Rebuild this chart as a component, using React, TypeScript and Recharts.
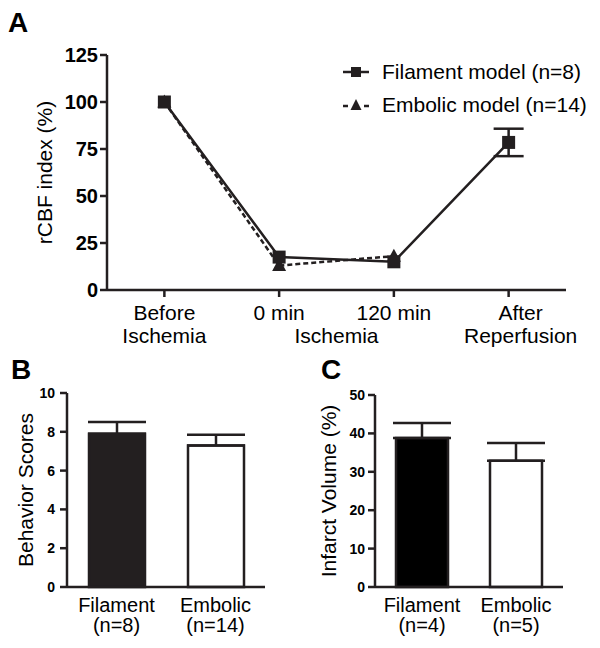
import React from "react";
import {
  LineChart,
  Line,
  BarChart,
  Bar,
  Cell,
  XAxis,
  YAxis,
  ErrorBar,
  Legend,
} from "recharts";

const INK = "#231f20";
const FONT = '"Liberation Sans", Arial, Helvetica, sans-serif';

// Panel A: rCBF over time
const timepoints = ["Before\nIschemia", "0 min", "120 min", "After\nReperfusion"];
const ischemiaGroupLabel = "Ischemia";
const filamentRcbf = [100, 17.5, 15, 78.5];
const filamentRcbfErr = [null, null, null, 7.3];
const embolicRcbf = [100, 13, 18, null];
const rcbfTicks = [0, 25, 50, 75, 100, 125];
const seriesNames = ["Filament model (n=8)", "Embolic model (n=14)"];

// Panel B: behavior scores
const groups = ["Filament", "Embolic"];
const behaviorN = ["(n=8)", "(n=14)"];
const behaviorScores = [7.9, 7.3];
const behaviorErr = [0.6, 0.55];
const behaviorTicks = [0, 2, 4, 6, 8, 10];

// Panel C: infarct volume
const infarctN = ["(n=4)", "(n=5)"];
const infarctVolume = [38.8, 32.9];
const infarctErr = [3.9, 4.6];
const infarctTicks = [0, 10, 20, 30, 40, 50];

const rcbfData = timepoints.map((t, i) => ({
  time: t,
  filament: filamentRcbf[i],
  filamentErr: filamentRcbfErr[i],
  embolic: embolicRcbf[i],
}));

const behaviorData = groups.map((g, i) => ({
  group: g,
  n: behaviorN[i],
  value: behaviorScores[i],
  err: [0, behaviorErr[i]],
}));

const infarctData = groups.map((g, i) => ({
  group: g,
  n: infarctN[i],
  value: infarctVolume[i],
  err: [0, infarctErr[i]],
}));

// plot box of panel A (px)
const A_LEFT = 107;
const A_RIGHT = 566;
const A_HALF_BAND = (A_RIGHT - A_LEFT) / 8;

const axisStroke = { stroke: INK, strokeWidth: 2.5 };

function SquareDot(props: any) {
  const { cx, cy } = props;
  if (cx == null || cy == null) return null;
  return <rect x={cx - 6.5} y={cy - 6.5} width={13} height={13} fill={INK} />;
}

function TriangleDot(props: any) {
  const { cx, cy } = props;
  if (cx == null || cy == null) return null;
  return (
    <polygon
      points={`${cx},${cy - 7.5} ${cx - 7},${cy + 5.5} ${cx + 7},${cy + 5.5}`}
      fill={INK}
    />
  );
}

function TimeTick(props: any) {
  const { x, y, payload } = props;
  const idx = timepoints.indexOf(payload.value);
  const lines = String(payload.value).split("\n");
  const dx = idx === 3 ? 12 : 0;
  const textProps = {
    textAnchor: "middle" as const,
    fontSize: 21,
    fill: "#000",
    fontFamily: FONT,
  };
  return (
    <g>
      {lines.map((t, i) => (
        <text key={i} x={x + dx} y={y + 23 + i * 23} {...textProps}>
          {t}
        </text>
      ))}
      {idx === 1 && (
        <text x={x + A_HALF_BAND} y={y + 46} {...textProps}>
          {ischemiaGroupLabel}
        </text>
      )}
    </g>
  );
}

function GroupTick(props: any) {
  const { x, y, payload, nLabels } = props;
  const idx = groups.indexOf(payload.value);
  const textProps = {
    textAnchor: "middle" as const,
    fontSize: 20,
    fill: "#000",
    fontFamily: FONT,
  };
  return (
    <g>
      <text x={x} y={y + 25} {...textProps}>
        {payload.value}
      </text>
      <text x={x} y={y + 45} {...textProps}>
        {nLabels[idx]}
      </text>
    </g>
  );
}

function rotatedLabel(value: string, cx: number, size = 21) {
  return (p: any) => {
    const vb = p.viewBox || {};
    const cy = vb.y + vb.height / 2;
    return (
      <text
        x={cx}
        y={cy}
        transform={`rotate(-90 ${cx} ${cy})`}
        textAnchor="middle"
        dominantBaseline="central"
        fontSize={size}
        fill="#000"
        fontFamily={FONT}
      >
        {value}
      </text>
    );
  };
}

function ModelLegend() {
  return (
    <div style={{ fontFamily: FONT, fontSize: 21, color: "#000" }}>
      {seriesNames.map((name, i) => (
        <div
          key={name}
          style={{ display: "flex", alignItems: "center", height: 33, whiteSpace: "nowrap" }}
        >
          <svg width={26} height={16}>
            {i === 0 ? (
              <g>
                <line x1={0} y1={8} x2={26} y2={8} stroke={INK} strokeWidth={2.5} />
                <rect x={8} y={3} width={10} height={10} fill={INK} />
              </g>
            ) : (
              <g>
                <line x1={0} y1={9} x2={5} y2={9} stroke={INK} strokeWidth={2.5} />
                <polygon points="13,2 7.5,13 18.5,13" fill={INK} />
                <line x1={21} y1={9} x2={26} y2={9} stroke={INK} strokeWidth={2.5} />
              </g>
            )}
          </svg>
          <span style={{ marginLeft: 13 }}>{name}</span>
        </div>
      ))}
    </div>
  );
}

const panelLetter: React.CSSProperties = {
  position: "absolute",
  fontFamily: FONT,
  fontWeight: 700,
  fontSize: 28,
  lineHeight: "28px",
  color: "#000",
};

export default function App() {
  return (
    <div
      style={{
        position: "absolute",
        left: 0,
        top: 0,
        width: 600,
        height: 648,
        background: "#fff",
        overflow: "hidden",
      }}
    >
      <div style={{ ...panelLetter, left: 8, top: 9 }}>A</div>
      <div style={{ ...panelLetter, left: 11, top: 356 }}>B</div>
      <div style={{ ...panelLetter, left: 321, top: 356 }}>C</div>

      <div style={{ position: "absolute", left: 0, top: 0 }}>
        <LineChart
          width={600}
          height={360}
          data={rcbfData}
          margin={{ top: 55, right: 600 - A_RIGHT, left: 0, bottom: 0 }}
        >
          <XAxis
            dataKey="time"
            interval={0}
            height={70}
            padding={{ left: A_HALF_BAND, right: A_HALF_BAND }}
            axisLine={axisStroke}
            tickLine={axisStroke}
            tickSize={7}
            tickMargin={0}
            tick={<TimeTick />}
          />
          <YAxis
            domain={[0, 125]}
            ticks={rcbfTicks}
            interval={0}
            width={A_LEFT}
            axisLine={axisStroke}
            tickLine={axisStroke}
            tickSize={7}
            tickMargin={2}
            tick={{ fontSize: 20, fontWeight: 700, fill: "#000", fontFamily: FONT }}
            label={{ content: rotatedLabel("rCBF index (%)", 44) }}
          />
          <Legend
            layout="vertical"
            align="center"
            verticalAlign="middle"
            content={<ModelLegend />}
            wrapperStyle={{ left: 343, top: 55, width: "auto" }}
          />
          <Line
            dataKey="embolic"
            name={seriesNames[1]}
            stroke={INK}
            strokeWidth={2.5}
            strokeDasharray="5 3"
            dot={TriangleDot}
            activeDot={false}
            isAnimationActive={false}
          />
          <Line
            dataKey="filament"
            name={seriesNames[0]}
            stroke={INK}
            strokeWidth={2.5}
            dot={SquareDot}
            activeDot={false}
            isAnimationActive={false}
          >
            <ErrorBar dataKey="filamentErr" width={15} stroke={INK} strokeWidth={2.5} />
          </Line>
        </LineChart>
      </div>

      <div style={{ position: "absolute", left: 0, top: 370 }}>
        <BarChart
          width={300}
          height={270}
          data={behaviorData}
          margin={{ top: 23, right: 35, left: 0, bottom: 0 }}
        >
          <XAxis
            dataKey="group"
            interval={0}
            height={53}
            axisLine={axisStroke}
            tickLine={false}
            tickSize={0}
            tickMargin={0}
            tick={<GroupTick nLabels={behaviorN} />}
          />
          <YAxis
            domain={[0, 10]}
            ticks={behaviorTicks}
            interval={0}
            width={67}
            axisLine={axisStroke}
            tickLine={axisStroke}
            tickSize={7}
            tickMargin={5}
            tick={{ fontSize: 14, fontWeight: 700, fill: "#000", fontFamily: FONT }}
            label={{ content: rotatedLabel("Behavior Scores", 25) }}
          />
          <Bar
            dataKey="value"
            barSize={56}
            stroke={INK}
            strokeWidth={2.5}
            isAnimationActive={false}
          >
            <Cell fill={INK} />
            <Cell fill="#ffffff" />
            <ErrorBar dataKey="err" width={29} stroke={INK} strokeWidth={2.5} direction="y" />
          </Bar>
        </BarChart>
      </div>

      <div style={{ position: "absolute", left: 300, top: 370 }}>
        <BarChart
          width={300}
          height={270}
          data={infarctData}
          margin={{ top: 25, right: 37, left: 0, bottom: 0 }}
        >
          <XAxis
            dataKey="group"
            interval={0}
            height={53}
            axisLine={axisStroke}
            tickLine={false}
            tickSize={0}
            tickMargin={0}
            tick={<GroupTick nLabels={infarctN} />}
          />
          <YAxis
            domain={[0, 50]}
            ticks={infarctTicks}
            interval={0}
            width={75}
            axisLine={axisStroke}
            tickLine={axisStroke}
            tickSize={7}
            tickMargin={3}
            tick={{ fontSize: 14, fontWeight: 700, fill: "#000", fontFamily: FONT }}
            label={{ content: rotatedLabel("Infarct Volume (%)", 28) }}
          />
          <Bar
            dataKey="value"
            barSize={52}
            stroke={INK}
            strokeWidth={2.5}
            isAnimationActive={false}
          >
            <Cell fill="#000000" />
            <Cell fill="#ffffff" />
            <ErrorBar dataKey="err" width={29} stroke={INK} strokeWidth={2.5} direction="y" />
          </Bar>
        </BarChart>
      </div>
    </div>
  );
}
